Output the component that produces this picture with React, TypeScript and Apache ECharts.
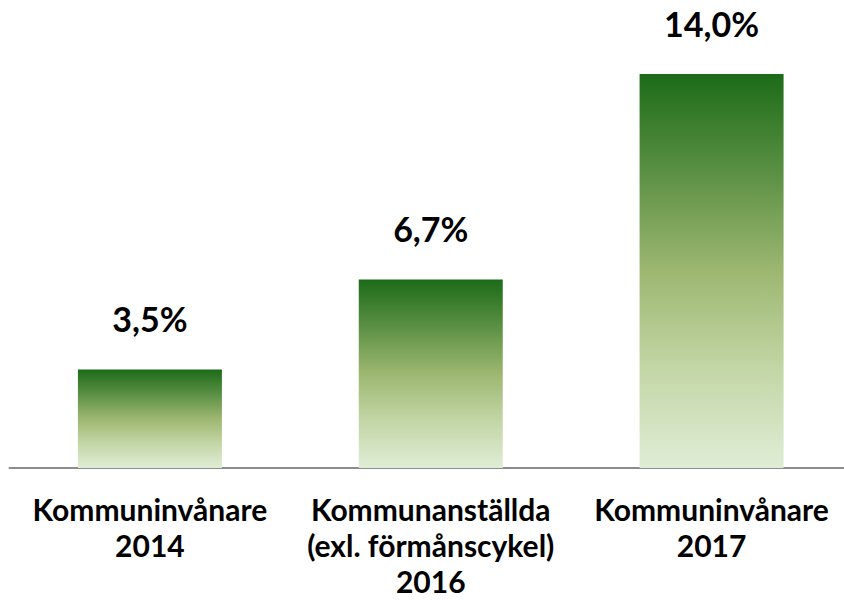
import React, { useEffect, useRef } from "react";
import * as echarts from "echarts";

const categories = ["Kommuninvånare\n2014", "Kommunanställda\n(exl. förmånscykel)\n2016", "Kommuninvånare\n2017"];
const values = [3.5, 6.7, 14.0];

export default function App() {
  const ref = useRef<HTMLDivElement>(null);
  useEffect(() => {
    document.body.style.margin = "0";
    const chart = echarts.init(ref.current!, null, { renderer: "svg" });
    const grad = new echarts.graphic.LinearGradient(0, 0, 0, 1, [
      { offset: 0, color: "#1C6B18" },
      { offset: 0.25, color: "#5B9044" },
      { offset: 0.5, color: "#9DB771" },
      { offset: 0.75, color: "#C3D6A6" },
      { offset: 1, color: "#E0EDD6" },
    ]);
    chart.setOption({
      animation: false,
      grid: { left: 9.5, right: 0, top: 74, bottom: 132, containLabel: false },
      xAxis: {
        type: "category",
        data: categories,
        axisLine: { show: true, lineStyle: { color: "#8C8C8C", width: 2 } },
        axisTick: { show: false },
        axisLabel: {
          interval: 0,
          color: "#000",
          fontFamily: "Lato",
          fontWeight: "bold",
          fontSize: 30,
          lineHeight: 36,
          margin: 23,
        },
      },
      yAxis: { type: "value", min: 0, max: 14, show: false, splitLine: { show: false } },
      series: [
        {
          type: "bar",
          data: values,
          barWidth: 144,
          itemStyle: { color: grad },
          label: {
            show: true,
            position: "top",
            distance: 34,
            color: "#000",
            fontFamily: "Lato",
            fontWeight: "bold",
            fontSize: 34,
            formatter: (p: any) => p.value.toFixed(1).replace(".", ",") + "%",
          },
        },
      ],
    });
    return () => chart.dispose();
  }, []);
  return (
    <div style={{ width: 844, height: 600, overflow: "hidden", position: "relative" }}>
      <div ref={ref} style={{ width: 852, height: 600 }} />
    </div>
  );
}
